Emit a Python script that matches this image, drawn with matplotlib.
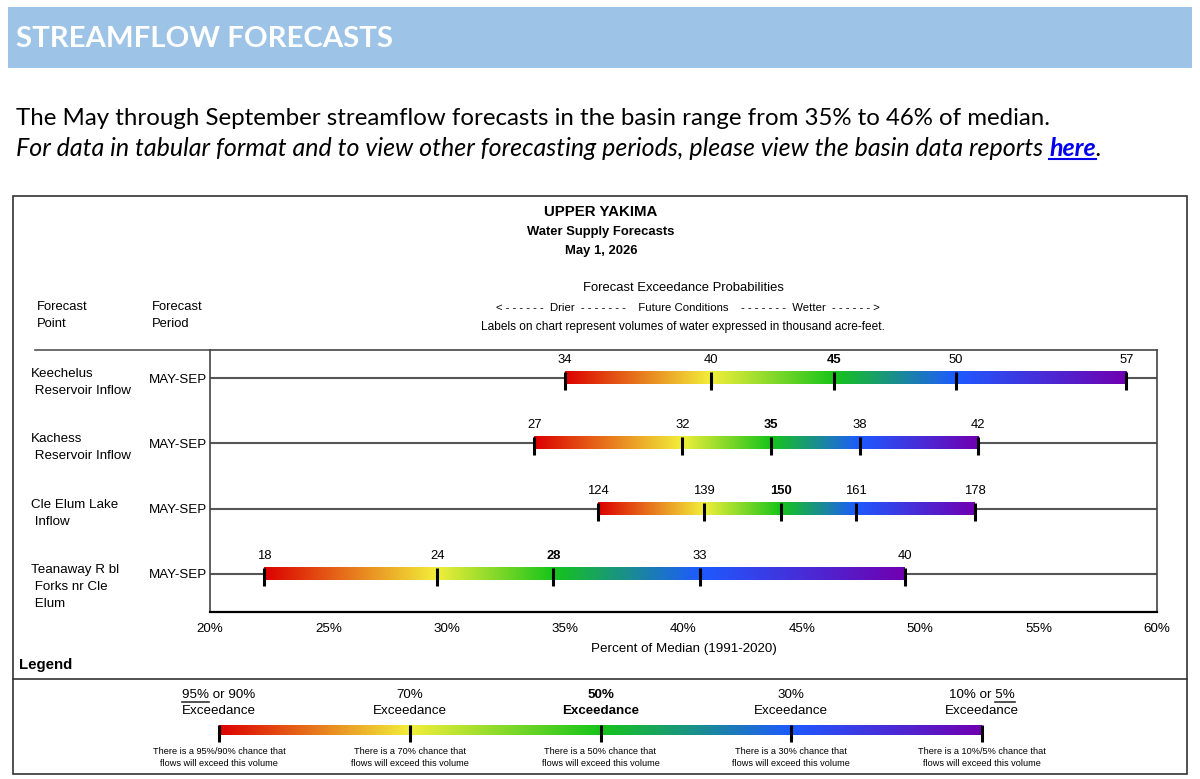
import numpy as np
import matplotlib
matplotlib.use("Agg")
import matplotlib.pyplot as plt
from matplotlib.colors import LinearSegmentedColormap, to_rgb

# forecast points, values in thousand acre-feet and position as % of median
points = ["Keechelus\n Reservoir Inflow", "Kachess\n Reservoir Inflow",
          "Cle Elum Lake\n Inflow", "Teanaway R bl\n Forks nr Cle\n Elum"]
periods = ["MAY-SEP", "MAY-SEP", "MAY-SEP", "MAY-SEP"]
volumes = [[34, 40, 45, 50, 57],
           [27, 32, 35, 38, 42],
           [124, 139, 150, 161, 178],
           [18, 24, 28, 33, 40]]
pct_median = [[35.0, 41.15, 46.35, 51.5, 58.7],
              [33.7, 39.95, 43.7, 47.45, 52.45],
              [36.4, 40.85, 44.1, 47.3, 52.3],
              [22.3, 29.6, 34.5, 40.7, 49.35]]
xticks = [20, 25, 30, 35, 40, 45, 50, 55, 60]

exceed = ["95% or 90%", "70%", "50%", "30%", "10% or 5%"]
exceed_pct = ["95%/90%", "70%", "50%", "30%", "10%/5%"]
stop_colors = ["#dc0000", "#f2ee3a", "#16c41a", "#1e5aff", "#7000b0"]

sans = "Liberation Sans"
W, H = 1200, 779
fig = plt.figure(figsize=(W / 100, H / 100), dpi=100)

# page overlay in pixel units
bg = fig.add_axes([0, 0, 1, 1])
bg.set_xlim(0, W)
bg.set_ylim(H, 0)
bg.axis("off")

bg.add_patch(plt.Rectangle((8, 7), 1184, 61, color="#9dc3e6", lw=0))
bg.text(16, 39, "STREAMFLOW FORECASTS", fontsize=21.2, fontweight="bold",
        family="Lato", color="white", va="center")
bg.text(16, 118, "The May through September streamflow forecasts in the basin range from 35% to 46% of median.",
        fontsize=17.3, family="Lato", va="center", color="black")
fs2 = 18.0
t2 = bg.text(16, 148, "For data in tabular format and to view other forecasting periods, please view the basin data reports ",
             fontsize=fs2, family="Lato", style="italic", va="center")
fig.canvas.draw()
bb = t2.get_window_extent()
t3 = bg.text(bb.x1, 148, "here", fontsize=fs2, family="Lato", style="italic",
             fontweight="bold", color="#0000ee", va="center")
fig.canvas.draw()
bb3 = t3.get_window_extent()
bg.plot([bb3.x0, bb3.x1], [159, 159], color="#0000ee", lw=1.5)
bg.text(bb3.x1, 148, ".", fontsize=fs2, family="Lato", style="italic", va="center")

# chart frame
bg.add_patch(plt.Rectangle((13, 196), 1174, 578, fill=False, ec="#333333", lw=1.2))
bg.plot([13, 1187], [679, 679], color="#333333", lw=1.2)
bg.plot([35, 210], [349.5, 349.5], color="#555555", lw=1.2)

bg.text(601, 212, "UPPER YAKIMA", family=sans, fontsize=10.8, fontweight="bold", ha="center", va="center")
bg.text(601, 232, "Water Supply Forecasts", family=sans, fontsize=9.4, fontweight="bold", ha="center", va="center")
bg.text(601, 251, "May 1, 2026", family=sans, fontsize=9.4, fontweight="bold", ha="center", va="center")
bg.text(683, 288, "Forecast Exceedance Probabilities", family=sans, fontsize=9.4, ha="center", va="center")
bg.text(688, 308, "< - - - - - -  Drier  - - - - - - -    Future Conditions    - - - - - - -  Wetter  - - - - - - >",
        family=sans, fontsize=8.2, ha="center", va="center")
bg.text(683, 327, "Labels on chart represent volumes of water expressed in thousand acre-feet.",
        family=sans, fontsize=8.6, ha="center", va="center")
bg.text(37, 307, "Forecast", family=sans, fontsize=9.4, va="center")
bg.text(37, 324, "Point", family=sans, fontsize=9.4, va="center")
bg.text(152, 307, "Forecast", family=sans, fontsize=9.4, va="center")
bg.text(152, 324, "Period", family=sans, fontsize=9.4, va="center")
bg.text(19, 665, "Legend", family=sans, fontsize=10.8, fontweight="bold", va="center")


def seg_cmap(c0, c1):
    return LinearSegmentedColormap.from_list("seg", [to_rgb(c0), to_rgb(c1)])


grad = np.linspace(0, 1, 256).reshape(1, -1)


def draw_bar(ax, xs, y, half, tick_lo, tick_hi):
    for k in range(len(xs) - 1):
        ax.imshow(grad, cmap=seg_cmap(stop_colors[k], stop_colors[k + 1]), aspect="auto",
                  extent=[xs[k], xs[k + 1], y + half, y - half], zorder=3, interpolation="bilinear")
    for x in xs:
        ax.plot([x, x], [y - tick_lo, y + tick_hi], color="black", lw=2.2, zorder=4,
                solid_capstyle="butt", clip_on=False)


# main chart axes: x 210..1157 px, y 349..612 px
top_px, bot_px = 349.5, 612
ax = fig.add_axes([210 / W, 1 - bot_px / H, (1157 - 210) / W, (bot_px - top_px) / H])
rows = np.arange(len(points))
row_px = 65.3
for sp in ax.spines.values():
    sp.set_color("#444444")
    sp.set_linewidth(1.2)
ax.spines["bottom"].set_color("black")
ax.spines["bottom"].set_linewidth(1.6)

for i in rows:
    ax.plot([20, 60], [i, i], color="#555555", lw=1.5, zorder=2)
    draw_bar(ax, pct_median[i], i, 6 / row_px, 6 / row_px, 12 / row_px)
    for j, (p, v) in enumerate(zip(pct_median[i], volumes[i])):
        ax.annotate(str(v), xy=(p, i), xytext=(0, 18), textcoords="offset pixels",
                    ha="center", va="center", family=sans, fontsize=9.4,
                    fontweight="bold" if j == 2 else "normal")
    ax.annotate(points[i], xy=(31, i), xycoords=("figure pixels", "data"),
                xytext=(0, 10), textcoords="offset pixels", va="top", ha="left",
                family=sans, fontsize=9.6, linespacing=1.55)

ax.set_xlim(20, 60)
ax.set_ylim(3 + (bot_px - 574) / row_px, -(378 - top_px) / row_px)
ax.set_yticks(rows)
ax.set_yticklabels(periods, family=sans, fontsize=9.6)
ax.tick_params(axis="y", length=0, pad=2)
ax.set_xticks(xticks)
ax.set_xticklabels([f"{t}%" for t in xticks], family=sans, fontsize=9.6)
ax.tick_params(axis="x", length=0, pad=8)
ax.set_xlabel("Percent of Median (1991-2020)", family=sans, fontsize=9.6, labelpad=6)

# legend bar axes: 219..982 px, centered at y=728
lg = fig.add_axes([219 / W, 1 - 745 / H, (982 - 219) / W, 30 / H])
lg.axis("off")
pos = list(range(len(exceed)))
draw_bar(lg, pos, 0, 5, 5, 12)
lg.set_xlim(0, len(exceed) - 1)
lg.set_ylim(15, -15)
for k, name in enumerate(exceed):
    bold = "bold" if k == 2 else "normal"
    lg.annotate(name, xy=(k, 0), xytext=(0, 35), textcoords="offset pixels", ha="center",
                va="center", family=sans, fontsize=9.6, fontweight=bold, annotation_clip=False)
    lg.annotate("Exceedance", xy=(k, 0), xytext=(0, 19), textcoords="offset pixels", ha="center",
                va="center", family=sans, fontsize=9.6, fontweight=bold, annotation_clip=False)
    lg.annotate(f"There is a {exceed_pct[k]} chance that", xy=(k, 0), xytext=(0, -21),
                textcoords="offset pixels", ha="center", va="center", family=sans,
                fontsize=6.6, annotation_clip=False)
    lg.annotate("flows will exceed this volume", xy=(k, 0), xytext=(0, -33),
                textcoords="offset pixels", ha="center", va="center", family=sans,
                fontsize=6.6, annotation_clip=False)

# underline "95%" and "5%" in legend headings
fig.canvas.draw()
for k, word in [(0, "95%"), (4, "5%")]:
    full = lg.texts[k * 4]
    bbf = full.get_window_extent()
    tmp = fig.text(0, 0, word, family=sans, fontsize=9.6)
    wpx = tmp.get_window_extent().width
    tmp.remove()
    x0 = bbf.x0 if k == 0 else bbf.x1 - wpx
    bg.plot([x0, x0 + wpx], [H - bbf.y0 + 1, H - bbf.y0 + 1], color="#333333", lw=1.2)

fig.savefig("out.png", dpi=100)
